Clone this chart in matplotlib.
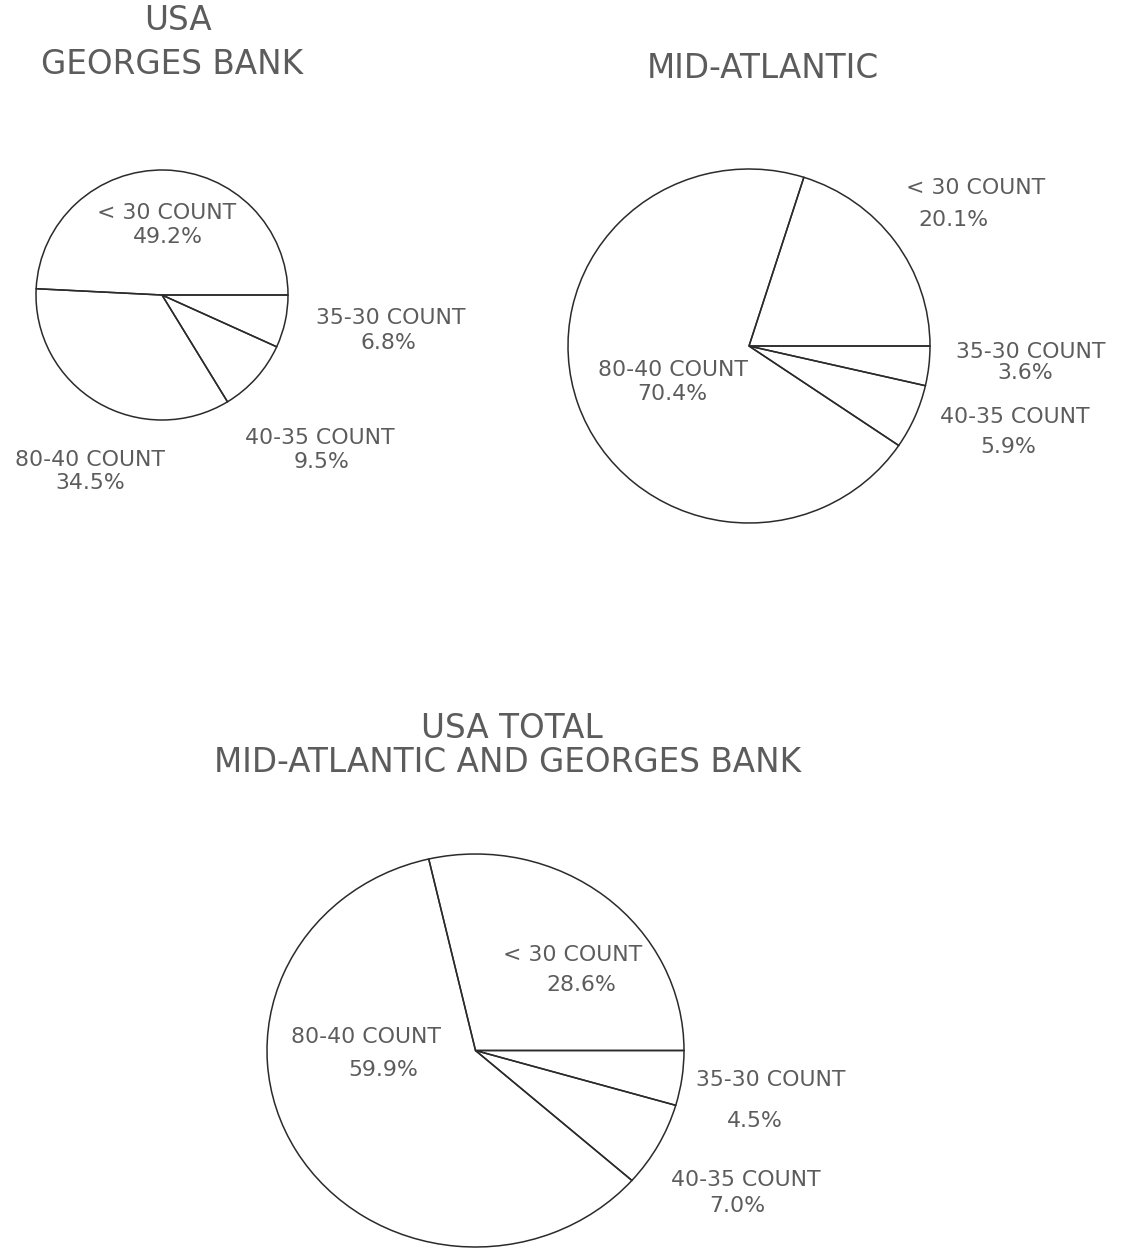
import matplotlib.pyplot as plt

W, H = 1123, 1248

# categories, in clockwise order starting from 3 o'clock
categories = ['35-30 COUNT', '40-35 COUNT', '80-40 COUNT', '< 30 COUNT']

# percent shares per region (same order as categories)
georges_bank = [6.8, 9.5, 34.5, 49.2]
mid_atlantic = [3.6, 5.9, 70.4, 20.1]
usa_total = [4.5, 7.0, 59.9, 28.6]

titles = [['USA', 'GEORGES BANK'], ['MID-ATLANTIC'],
          ['USA TOTAL', 'MID-ATLANTIC AND GEORGES BANK']]

line_col = '#2b2b2b'
text_col = '#5c5c5c'

fig = plt.figure(figsize=(W / 100, H / 100), dpi=100)
fig.patch.set_facecolor('white')


def fx(x):
    return x / W


def fy(y):
    return 1 - y / H


def draw_pie(values, box):
    # box = left, top, right, bottom in pixels
    l, t, r, b = box
    ax = fig.add_axes([fx(l), fy(b), (r - l) / W, (b - t) / H])
    wedges, _ = ax.pie(values, startangle=0, counterclock=False, radius=1,
                       wedgeprops=dict(fill=False, edgecolor=line_col, linewidth=1.1))
    for w in wedges:
        w.set_clip_on(False)
    ax.set_aspect('auto')
    ax.set_xlim(-1, 1)
    ax.set_ylim(-1, 1)
    ax.axis('off')
    return ax


def put(x, y, s, size=15.8):
    fig.text(fx(x), fy(y), s, ha='center', va='center', fontsize=size,
             color=text_col, family='DejaVu Sans')


draw_pie(georges_bank, (36, 170, 288, 420))
draw_pie(mid_atlantic, (568, 169, 930, 523))
draw_pie(usa_total, (267, 854, 684, 1247))

# label positions (name, percent) per category, in pixels
pos1 = [((391, 318), (388, 343)), ((320, 438), (322, 462)),
        ((90, 460), (90, 483)), ((167, 213), (168, 237))]
pos2 = [((1031, 352), (1025, 373)), ((1015, 417), (1008, 447)),
        ((673, 370), (672, 394)), ((976, 188), (953, 220))]
pos3 = [((771, 1080), (755, 1121)), ((746, 1180), (737, 1206)),
        ((366, 1037), (383, 1070)), ((573, 955), (581, 985))]

for vals, pos in [(georges_bank, pos1), (mid_atlantic, pos2), (usa_total, pos3)]:
    for cat, v, (p_name, p_pct) in zip(categories, vals, pos):
        put(p_name[0], p_name[1], cat)
        put(p_pct[0], p_pct[1], f'{v:.1f}%')

# titles
put(178, 20, titles[0][0], 23.5)
put(172, 64, titles[0][1], 23.5)
put(763, 68, titles[1][0], 23.5)
put(512, 728, titles[2][0], 23.5)
put(508, 763, titles[2][1], 23.5)

fig.savefig('out.png', dpi=100, facecolor='white')
